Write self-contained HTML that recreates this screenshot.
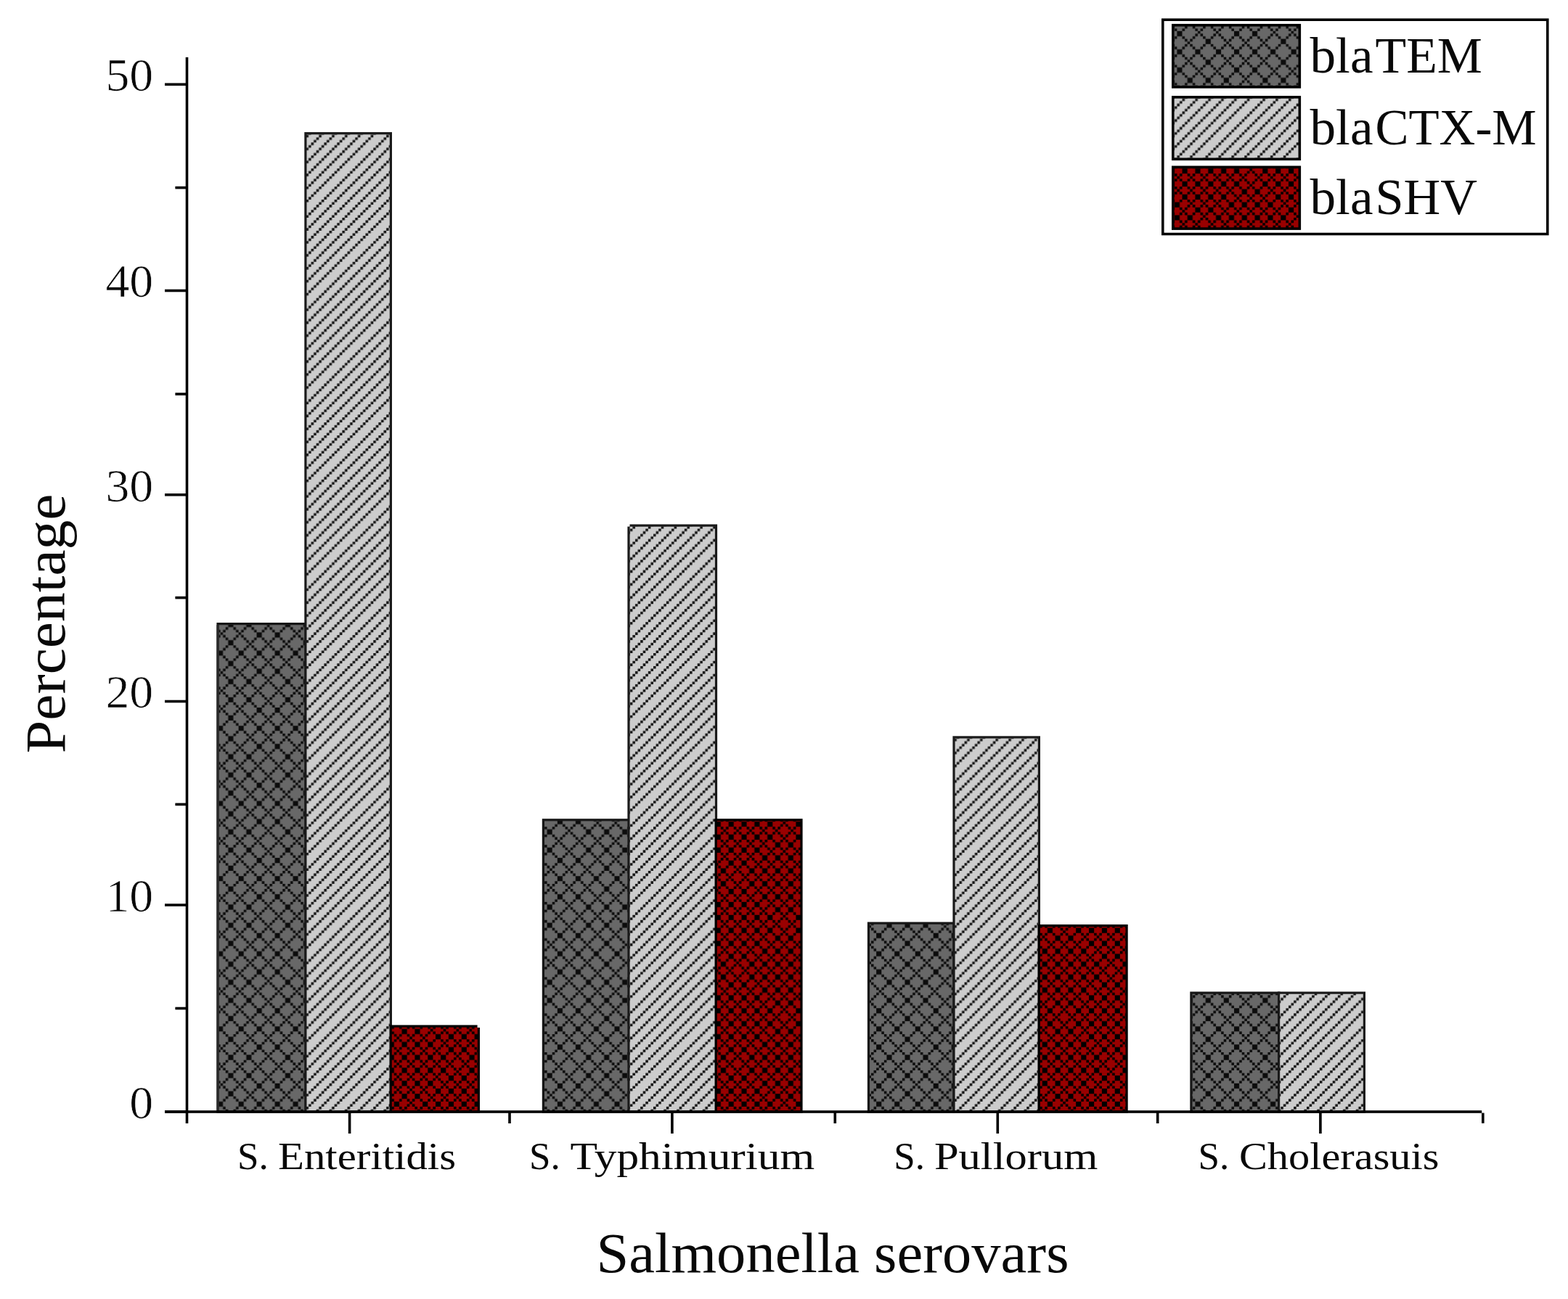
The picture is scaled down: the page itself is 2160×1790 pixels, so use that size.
<!DOCTYPE html>
<html lang="en"><head><meta charset="utf-8"><title>Salmonella serovars – bla gene percentage</title>
<style>
html,body{margin:0;padding:0;background:#fff;}
body{width:2160px;height:1790px;overflow:hidden;}
main,figure{display:block;margin:0;padding:0;width:2160px;height:1790px;}
svg{display:block;}
text{font-family:"Liberation Serif","DejaVu Serif",serif;fill:#080808;stroke:#ffffff;stroke-linejoin:round;}
.tick{font-size:63.5px;stroke-width:0.7px;}
.xl{font-size:53px;stroke-width:0;}
.ttl{font-size:79px;stroke-width:0;}
.lg{font-size:69.5px;stroke-width:0;}
</style></head><body>
<main><figure>
<svg width="2160" height="1790" viewBox="0 0 2160 1790" role="img" aria-label="Percentage of bla genes in Salmonella serovars">
<defs>
<pattern id="pd" patternUnits="userSpaceOnUse" x="0.00" y="0.00" width="103.5714" height="103.5714"><rect width="104.5714" height="104.5714" fill="#686868"/><path transform="scale(3.57143)" fill="#0c0c0c" d="M0 0h1v1h-1zM3 0h1v1h-1zM7 0h1v1h-1zM10 0h1v1h-1zM15 0h1v1h-1zM17 0h1v1h-1zM22 0h1v1h-1zM25 0h1v1h-1zM1 1h2v1h-2zM8 1h2v1h-2zM16 1h1v1h-1zM23 1h2v1h-2zM1 2h2v1h-2zM8 2h2v1h-2zM15 2h1v1h-1zM17 2h1v1h-1zM23 2h2v1h-2zM0 3h1v1h-1zM3 3h1v1h-1zM7 3h1v1h-1zM10 3h1v1h-1zM14 3h1v1h-1zM18 3h1v1h-1zM22 3h1v1h-1zM25 3h1v1h-1zM4 4h1v1h-1zM6 4h1v1h-1zM11 4h1v1h-1zM13 4h1v1h-1zM19 4h1v1h-1zM21 4h1v1h-1zM26 4h1v1h-1zM28 4h1v1h-1zM5 5h1v1h-1zM12 5h1v1h-1zM20 5h1v1h-1zM27 5h1v1h-1zM4 6h1v1h-1zM6 6h1v1h-1zM11 6h1v1h-1zM13 6h1v1h-1zM19 6h1v1h-1zM21 6h1v1h-1zM26 6h1v1h-1zM28 6h1v1h-1zM0 7h1v1h-1zM3 7h1v1h-1zM7 7h1v1h-1zM10 7h1v1h-1zM14 7h1v1h-1zM18 7h1v1h-1zM22 7h1v1h-1zM25 7h1v1h-1zM1 8h2v1h-2zM8 8h2v1h-2zM15 8h1v1h-1zM17 8h1v1h-1zM23 8h2v1h-2zM1 9h2v1h-2zM8 9h2v1h-2zM16 9h1v1h-1zM23 9h2v1h-2zM0 10h1v1h-1zM3 10h1v1h-1zM7 10h1v1h-1zM10 10h1v1h-1zM15 10h1v1h-1zM17 10h1v1h-1zM22 10h1v1h-1zM25 10h1v1h-1zM4 11h1v1h-1zM6 11h1v1h-1zM11 11h1v1h-1zM14 11h1v1h-1zM18 11h1v1h-1zM21 11h1v1h-1zM26 11h1v1h-1zM28 11h1v1h-1zM5 12h1v1h-1zM12 12h2v1h-2zM19 12h2v1h-2zM27 12h1v1h-1zM4 13h1v1h-1zM6 13h1v1h-1zM12 13h2v1h-2zM19 13h2v1h-2zM26 13h1v1h-1zM28 13h1v1h-1zM0 14h1v1h-1zM3 14h1v1h-1zM7 14h1v1h-1zM11 14h1v1h-1zM14 14h1v1h-1zM18 14h1v1h-1zM21 14h1v1h-1zM25 14h1v1h-1zM1 15h2v1h-2zM8 15h1v1h-1zM10 15h1v1h-1zM15 15h1v1h-1zM17 15h1v1h-1zM22 15h1v1h-1zM24 15h1v1h-1zM1 16h2v1h-2zM9 16h1v1h-1zM16 16h1v1h-1zM23 16h1v1h-1zM0 17h1v1h-1zM3 17h1v1h-1zM8 17h1v1h-1zM10 17h1v1h-1zM15 17h1v1h-1zM17 17h1v1h-1zM22 17h1v1h-1zM24 17h1v1h-1zM4 18h1v1h-1zM7 18h1v1h-1zM11 18h1v1h-1zM14 18h1v1h-1zM18 18h1v1h-1zM21 18h1v1h-1zM25 18h1v1h-1zM28 18h1v1h-1zM5 19h2v1h-2zM12 19h2v1h-2zM19 19h2v1h-2zM26 19h2v1h-2zM5 20h2v1h-2zM12 20h2v1h-2zM19 20h2v1h-2zM26 20h2v1h-2zM4 21h1v1h-1zM7 21h1v1h-1zM11 21h1v1h-1zM14 21h1v1h-1zM18 21h1v1h-1zM21 21h1v1h-1zM25 21h1v1h-1zM28 21h1v1h-1zM0 22h1v1h-1zM3 22h1v1h-1zM8 22h1v1h-1zM10 22h1v1h-1zM15 22h1v1h-1zM17 22h1v1h-1zM22 22h1v1h-1zM24 22h1v1h-1zM1 23h2v1h-2zM9 23h1v1h-1zM16 23h1v1h-1zM23 23h1v1h-1zM1 24h2v1h-2zM8 24h1v1h-1zM10 24h1v1h-1zM15 24h1v1h-1zM17 24h1v1h-1zM22 24h1v1h-1zM24 24h1v1h-1zM0 25h1v1h-1zM3 25h1v1h-1zM7 25h1v1h-1zM11 25h1v1h-1zM14 25h1v1h-1zM18 25h1v1h-1zM21 25h1v1h-1zM25 25h1v1h-1zM4 26h1v1h-1zM6 26h1v1h-1zM12 26h2v1h-2zM19 26h2v1h-2zM26 26h1v1h-1zM28 26h1v1h-1zM5 27h1v1h-1zM12 27h2v1h-2zM19 27h2v1h-2zM27 27h1v1h-1zM4 28h1v1h-1zM6 28h1v1h-1zM11 28h1v1h-1zM14 28h1v1h-1zM18 28h1v1h-1zM21 28h1v1h-1zM26 28h1v1h-1zM28 28h1v1h-1z"/></pattern>
<pattern id="pl" patternUnits="userSpaceOnUse" x="0.00" y="0.00" width="128.5714" height="128.5714"><rect width="129.5714" height="129.5714" fill="#cccccc"/><path transform="scale(3.57143)" fill="#151515" d="M0 0h1v1h-1zM5 0h1v1h-1zM10 0h1v1h-1zM15 0h1v1h-1zM21 0h1v1h-1zM26 0h1v1h-1zM31 0h1v1h-1zM4 1h1v1h-1zM9 1h1v1h-1zM14 1h1v1h-1zM20 1h1v1h-1zM25 1h1v1h-1zM30 1h1v1h-1zM35 1h1v1h-1zM3 2h1v1h-1zM8 2h1v1h-1zM13 2h1v1h-1zM19 2h1v1h-1zM24 2h1v1h-1zM29 2h1v1h-1zM34 2h1v1h-1zM2 3h1v1h-1zM7 3h1v1h-1zM12 3h1v1h-1zM18 3h1v1h-1zM23 3h1v1h-1zM28 3h1v1h-1zM33 3h1v1h-1zM1 4h1v1h-1zM6 4h1v1h-1zM11 4h1v1h-1zM17 4h1v1h-1zM22 4h1v1h-1zM27 4h1v1h-1zM32 4h1v1h-1zM0 5h1v1h-1zM5 5h1v1h-1zM10 5h1v1h-1zM16 5h1v1h-1zM21 5h1v1h-1zM26 5h1v1h-1zM31 5h1v1h-1zM4 6h1v1h-1zM9 6h1v1h-1zM15 6h1v1h-1zM20 6h1v1h-1zM25 6h1v1h-1zM30 6h1v1h-1zM35 6h1v1h-1zM3 7h1v1h-1zM8 7h1v1h-1zM14 7h1v1h-1zM19 7h1v1h-1zM24 7h1v1h-1zM29 7h1v1h-1zM34 7h1v1h-1zM2 8h1v1h-1zM7 8h1v1h-1zM13 8h1v1h-1zM18 8h1v1h-1zM23 8h1v1h-1zM28 8h1v1h-1zM33 8h1v1h-1zM1 9h1v1h-1zM6 9h1v1h-1zM12 9h1v1h-1zM17 9h1v1h-1zM22 9h1v1h-1zM27 9h1v1h-1zM32 9h1v1h-1zM0 10h1v1h-1zM5 10h1v1h-1zM11 10h1v1h-1zM16 10h1v1h-1zM21 10h1v1h-1zM26 10h1v1h-1zM31 10h1v1h-1zM4 11h1v1h-1zM10 11h1v1h-1zM15 11h1v1h-1zM20 11h1v1h-1zM25 11h1v1h-1zM30 11h1v1h-1zM35 11h1v1h-1zM3 12h1v1h-1zM9 12h1v1h-1zM14 12h1v1h-1zM19 12h1v1h-1zM24 12h1v1h-1zM29 12h1v1h-1zM34 12h1v1h-1zM2 13h1v1h-1zM8 13h1v1h-1zM13 13h1v1h-1zM18 13h1v1h-1zM23 13h1v1h-1zM28 13h1v1h-1zM33 13h1v1h-1zM1 14h1v1h-1zM7 14h1v1h-1zM12 14h1v1h-1zM17 14h1v1h-1zM22 14h1v1h-1zM27 14h1v1h-1zM32 14h1v1h-1zM0 15h1v1h-1zM6 15h1v1h-1zM11 15h1v1h-1zM16 15h1v1h-1zM21 15h1v1h-1zM26 15h1v1h-1zM31 15h1v1h-1zM5 16h1v1h-1zM10 16h1v1h-1zM15 16h1v1h-1zM20 16h1v1h-1zM25 16h1v1h-1zM30 16h1v1h-1zM35 16h1v1h-1zM4 17h1v1h-1zM9 17h1v1h-1zM14 17h1v1h-1zM19 17h1v1h-1zM24 17h1v1h-1zM29 17h1v1h-1zM34 17h1v1h-1zM3 18h1v1h-1zM8 18h1v1h-1zM13 18h1v1h-1zM18 18h1v1h-1zM23 18h1v1h-1zM28 18h1v1h-1zM33 18h1v1h-1zM2 19h1v1h-1zM7 19h1v1h-1zM12 19h1v1h-1zM17 19h1v1h-1zM22 19h1v1h-1zM27 19h1v1h-1zM32 19h1v1h-1zM1 20h1v1h-1zM6 20h1v1h-1zM11 20h1v1h-1zM16 20h1v1h-1zM21 20h1v1h-1zM26 20h1v1h-1zM31 20h1v1h-1zM0 21h1v1h-1zM5 21h1v1h-1zM10 21h1v1h-1zM15 21h1v1h-1zM20 21h1v1h-1zM25 21h1v1h-1zM30 21h1v1h-1zM4 22h1v1h-1zM9 22h1v1h-1zM14 22h1v1h-1zM19 22h1v1h-1zM24 22h1v1h-1zM29 22h1v1h-1zM35 22h1v1h-1zM3 23h1v1h-1zM8 23h1v1h-1zM13 23h1v1h-1zM18 23h1v1h-1zM23 23h1v1h-1zM28 23h1v1h-1zM34 23h1v1h-1zM2 24h1v1h-1zM7 24h1v1h-1zM12 24h1v1h-1zM17 24h1v1h-1zM22 24h1v1h-1zM27 24h1v1h-1zM33 24h1v1h-1zM1 25h1v1h-1zM6 25h1v1h-1zM11 25h1v1h-1zM16 25h1v1h-1zM21 25h1v1h-1zM26 25h1v1h-1zM32 25h1v1h-1zM0 26h1v1h-1zM5 26h1v1h-1zM10 26h1v1h-1zM15 26h1v1h-1zM20 26h1v1h-1zM25 26h1v1h-1zM31 26h1v1h-1zM4 27h1v1h-1zM9 27h1v1h-1zM14 27h1v1h-1zM19 27h1v1h-1zM24 27h1v1h-1zM30 27h1v1h-1zM35 27h1v1h-1zM3 28h1v1h-1zM8 28h1v1h-1zM13 28h1v1h-1zM18 28h1v1h-1zM23 28h1v1h-1zM29 28h1v1h-1zM34 28h1v1h-1zM2 29h1v1h-1zM7 29h1v1h-1zM12 29h1v1h-1zM17 29h1v1h-1zM22 29h1v1h-1zM28 29h1v1h-1zM33 29h1v1h-1zM1 30h1v1h-1zM6 30h1v1h-1zM11 30h1v1h-1zM16 30h1v1h-1zM21 30h1v1h-1zM27 30h1v1h-1zM32 30h1v1h-1zM0 31h1v1h-1zM5 31h1v1h-1zM10 31h1v1h-1zM15 31h1v1h-1zM20 31h1v1h-1zM26 31h1v1h-1zM31 31h1v1h-1zM4 32h1v1h-1zM9 32h1v1h-1zM14 32h1v1h-1zM19 32h1v1h-1zM25 32h1v1h-1zM30 32h1v1h-1zM35 32h1v1h-1zM3 33h1v1h-1zM8 33h1v1h-1zM13 33h1v1h-1zM18 33h1v1h-1zM24 33h1v1h-1zM29 33h1v1h-1zM34 33h1v1h-1zM2 34h1v1h-1zM7 34h1v1h-1zM12 34h1v1h-1zM17 34h1v1h-1zM23 34h1v1h-1zM28 34h1v1h-1zM33 34h1v1h-1zM1 35h1v1h-1zM6 35h1v1h-1zM11 35h1v1h-1zM16 35h1v1h-1zM22 35h1v1h-1zM27 35h1v1h-1zM32 35h1v1h-1z"/></pattern>
<pattern id="pr" patternUnits="userSpaceOnUse" x="0.00" y="0.00" width="128.5714" height="128.5714"><rect width="129.5714" height="129.5714" fill="#990000"/><path transform="scale(3.57143)" fill="#000000" d="M0 0h1v1h-1zM2 0h1v1h-1zM5 0h1v1h-1zM7 0h1v1h-1zM10 0h1v1h-1zM13 0h1v1h-1zM15 0h1v1h-1zM18 0h1v1h-1zM21 0h1v1h-1zM23 0h1v1h-1zM26 0h1v1h-1zM28 0h1v1h-1zM31 0h1v1h-1zM33 0h1v1h-1zM1 1h1v1h-1zM6 1h1v1h-1zM11 1h2v1h-2zM16 1h2v1h-2zM22 1h1v1h-1zM27 1h1v1h-1zM32 1h1v1h-1zM0 2h1v1h-1zM2 2h1v1h-1zM5 2h1v1h-1zM7 2h1v1h-1zM11 2h2v1h-2zM16 2h2v1h-2zM21 2h1v1h-1zM23 2h1v1h-1zM26 2h1v1h-1zM28 2h1v1h-1zM31 2h1v1h-1zM33 2h1v1h-1zM3 3h2v1h-2zM8 3h1v1h-1zM10 3h1v1h-1zM13 3h1v1h-1zM15 3h1v1h-1zM18 3h1v1h-1zM20 3h1v1h-1zM24 3h2v1h-2zM29 3h2v1h-2zM34 3h2v1h-2zM3 4h2v1h-2zM9 4h1v1h-1zM14 4h1v1h-1zM19 4h1v1h-1zM24 4h2v1h-2zM29 4h2v1h-2zM34 4h2v1h-2zM0 5h1v1h-1zM2 5h1v1h-1zM5 5h1v1h-1zM8 5h1v1h-1zM10 5h1v1h-1zM13 5h1v1h-1zM15 5h1v1h-1zM18 5h1v1h-1zM20 5h1v1h-1zM23 5h1v1h-1zM26 5h1v1h-1zM28 5h1v1h-1zM31 5h1v1h-1zM33 5h1v1h-1zM1 6h1v1h-1zM6 6h2v1h-2zM11 6h2v1h-2zM16 6h2v1h-2zM21 6h2v1h-2zM27 6h1v1h-1zM32 6h1v1h-1zM0 7h1v1h-1zM2 7h1v1h-1zM6 7h2v1h-2zM11 7h2v1h-2zM16 7h2v1h-2zM21 7h2v1h-2zM26 7h1v1h-1zM28 7h1v1h-1zM31 7h1v1h-1zM33 7h1v1h-1zM3 8h1v1h-1zM5 8h1v1h-1zM8 8h1v1h-1zM10 8h1v1h-1zM13 8h1v1h-1zM15 8h1v1h-1zM18 8h1v1h-1zM20 8h1v1h-1zM23 8h1v1h-1zM25 8h1v1h-1zM29 8h2v1h-2zM34 8h2v1h-2zM4 9h1v1h-1zM9 9h1v1h-1zM14 9h1v1h-1zM19 9h1v1h-1zM24 9h1v1h-1zM29 9h2v1h-2zM34 9h2v1h-2zM0 10h1v1h-1zM3 10h1v1h-1zM5 10h1v1h-1zM8 10h1v1h-1zM10 10h1v1h-1zM13 10h1v1h-1zM15 10h1v1h-1zM18 10h1v1h-1zM20 10h1v1h-1zM23 10h1v1h-1zM25 10h1v1h-1zM28 10h1v1h-1zM31 10h1v1h-1zM33 10h1v1h-1zM1 11h2v1h-2zM6 11h2v1h-2zM11 11h2v1h-2zM16 11h2v1h-2zM21 11h2v1h-2zM26 11h2v1h-2zM32 11h1v1h-1zM1 12h2v1h-2zM6 12h2v1h-2zM11 12h2v1h-2zM16 12h2v1h-2zM21 12h2v1h-2zM26 12h2v1h-2zM31 12h1v1h-1zM33 12h1v1h-1zM0 13h1v1h-1zM3 13h1v1h-1zM5 13h1v1h-1zM8 13h1v1h-1zM10 13h1v1h-1zM13 13h1v1h-1zM15 13h1v1h-1zM18 13h1v1h-1zM20 13h1v1h-1zM23 13h1v1h-1zM25 13h1v1h-1zM28 13h1v1h-1zM30 13h1v1h-1zM34 13h1v1h-1zM4 14h1v1h-1zM9 14h1v1h-1zM14 14h1v1h-1zM19 14h1v1h-1zM24 14h1v1h-1zM29 14h1v1h-1zM35 14h1v1h-1zM0 15h1v1h-1zM3 15h1v1h-1zM5 15h1v1h-1zM8 15h1v1h-1zM10 15h1v1h-1zM13 15h1v1h-1zM15 15h1v1h-1zM18 15h1v1h-1zM20 15h1v1h-1zM23 15h1v1h-1zM25 15h1v1h-1zM28 15h1v1h-1zM30 15h1v1h-1zM34 15h1v1h-1zM1 16h2v1h-2zM6 16h2v1h-2zM11 16h2v1h-2zM16 16h2v1h-2zM21 16h2v1h-2zM26 16h2v1h-2zM31 16h1v1h-1zM33 16h1v1h-1zM1 17h2v1h-2zM6 17h2v1h-2zM11 17h2v1h-2zM16 17h2v1h-2zM21 17h2v1h-2zM26 17h2v1h-2zM32 17h1v1h-1zM0 18h1v1h-1zM3 18h1v1h-1zM5 18h1v1h-1zM8 18h1v1h-1zM10 18h1v1h-1zM13 18h1v1h-1zM15 18h1v1h-1zM18 18h1v1h-1zM20 18h1v1h-1zM23 18h1v1h-1zM25 18h1v1h-1zM28 18h1v1h-1zM31 18h1v1h-1zM33 18h1v1h-1zM4 19h1v1h-1zM9 19h1v1h-1zM14 19h1v1h-1zM19 19h1v1h-1zM24 19h1v1h-1zM29 19h2v1h-2zM34 19h2v1h-2zM3 20h1v1h-1zM5 20h1v1h-1zM8 20h1v1h-1zM10 20h1v1h-1zM13 20h1v1h-1zM15 20h1v1h-1zM18 20h1v1h-1zM20 20h1v1h-1zM23 20h1v1h-1zM25 20h1v1h-1zM29 20h2v1h-2zM34 20h2v1h-2zM0 21h1v1h-1zM2 21h1v1h-1zM6 21h2v1h-2zM11 21h2v1h-2zM16 21h2v1h-2zM21 21h2v1h-2zM26 21h1v1h-1zM28 21h1v1h-1zM31 21h1v1h-1zM33 21h1v1h-1zM1 22h1v1h-1zM6 22h2v1h-2zM11 22h2v1h-2zM16 22h2v1h-2zM21 22h2v1h-2zM27 22h1v1h-1zM32 22h1v1h-1zM0 23h1v1h-1zM2 23h1v1h-1zM5 23h1v1h-1zM8 23h1v1h-1zM10 23h1v1h-1zM13 23h1v1h-1zM15 23h1v1h-1zM18 23h1v1h-1zM20 23h1v1h-1zM23 23h1v1h-1zM26 23h1v1h-1zM28 23h1v1h-1zM31 23h1v1h-1zM33 23h1v1h-1zM3 24h2v1h-2zM9 24h1v1h-1zM14 24h1v1h-1zM19 24h1v1h-1zM24 24h2v1h-2zM29 24h2v1h-2zM34 24h2v1h-2zM3 25h2v1h-2zM8 25h1v1h-1zM10 25h1v1h-1zM13 25h1v1h-1zM15 25h1v1h-1zM18 25h1v1h-1zM20 25h1v1h-1zM24 25h2v1h-2zM29 25h2v1h-2zM34 25h2v1h-2zM0 26h1v1h-1zM2 26h1v1h-1zM5 26h1v1h-1zM7 26h1v1h-1zM11 26h2v1h-2zM16 26h2v1h-2zM21 26h1v1h-1zM23 26h1v1h-1zM26 26h1v1h-1zM28 26h1v1h-1zM31 26h1v1h-1zM33 26h1v1h-1zM1 27h1v1h-1zM6 27h1v1h-1zM11 27h2v1h-2zM16 27h2v1h-2zM22 27h1v1h-1zM27 27h1v1h-1zM32 27h1v1h-1zM0 28h1v1h-1zM2 28h1v1h-1zM5 28h1v1h-1zM7 28h1v1h-1zM10 28h1v1h-1zM13 28h1v1h-1zM15 28h1v1h-1zM18 28h1v1h-1zM21 28h1v1h-1zM23 28h1v1h-1zM26 28h1v1h-1zM28 28h1v1h-1zM31 28h1v1h-1zM33 28h1v1h-1zM3 29h2v1h-2zM8 29h2v1h-2zM14 29h1v1h-1zM19 29h2v1h-2zM24 29h2v1h-2zM29 29h2v1h-2zM34 29h2v1h-2zM3 30h2v1h-2zM8 30h2v1h-2zM13 30h1v1h-1zM15 30h1v1h-1zM19 30h2v1h-2zM24 30h2v1h-2zM29 30h2v1h-2zM34 30h2v1h-2zM0 31h1v1h-1zM2 31h1v1h-1zM5 31h1v1h-1zM7 31h1v1h-1zM10 31h1v1h-1zM12 31h1v1h-1zM16 31h1v1h-1zM18 31h1v1h-1zM21 31h1v1h-1zM23 31h1v1h-1zM26 31h1v1h-1zM28 31h1v1h-1zM31 31h1v1h-1zM33 31h1v1h-1zM1 32h1v1h-1zM6 32h1v1h-1zM11 32h1v1h-1zM17 32h1v1h-1zM22 32h1v1h-1zM27 32h1v1h-1zM32 32h1v1h-1zM0 33h1v1h-1zM2 33h1v1h-1zM5 33h1v1h-1zM7 33h1v1h-1zM10 33h1v1h-1zM12 33h1v1h-1zM16 33h1v1h-1zM18 33h1v1h-1zM21 33h1v1h-1zM23 33h1v1h-1zM26 33h1v1h-1zM28 33h1v1h-1zM31 33h1v1h-1zM33 33h1v1h-1zM3 34h2v1h-2zM8 34h2v1h-2zM13 34h1v1h-1zM15 34h1v1h-1zM19 34h2v1h-2zM24 34h2v1h-2zM29 34h2v1h-2zM34 34h2v1h-2zM3 35h2v1h-2zM8 35h2v1h-2zM14 35h1v1h-1zM19 35h2v1h-2zM24 35h2v1h-2zM29 35h2v1h-2zM34 35h2v1h-2z"/></pattern>
</defs>
<rect width="2160" height="1790" fill="#ffffff"/>
<g stroke-width="3.200">
<rect x="300.00" y="859.60" width="121.30" height="672.40" fill="url(#pd)" stroke="#161616"/>
<rect x="420.90" y="183.70" width="117.50" height="1348.30" fill="url(#pl)" stroke="#1a1a1a"/>
<rect x="538.20" y="1414.10" width="121.20" height="117.90" fill="url(#pr)" stroke="#000000"/>
<rect x="748.40" y="1129.80" width="118.20" height="402.20" fill="url(#pd)" stroke="#161616"/>
<rect x="866.00" y="724.10" width="120.50" height="807.90" fill="url(#pl)" stroke="#1a1a1a"/>
<rect x="986.20" y="1129.80" width="117.80" height="402.20" fill="url(#pr)" stroke="#000000"/>
<rect x="1196.50" y="1272.10" width="117.50" height="259.90" fill="url(#pd)" stroke="#161616"/>
<rect x="1314.00" y="1015.90" width="117.40" height="516.10" fill="url(#pl)" stroke="#1a1a1a"/>
<rect x="1431.20" y="1275.50" width="120.90" height="256.50" fill="url(#pr)" stroke="#000000"/>
<rect x="1640.90" y="1368.10" width="121.10" height="163.90" fill="url(#pd)" stroke="#161616"/>
<rect x="1761.60" y="1368.10" width="117.80" height="163.90" fill="url(#pl)" stroke="#1a1a1a"/>
</g>
<rect x="298.4" y="861.2" width="3.2" height="669" fill="#2c2c2c"/>
<rect x="657.6" y="1411.9" width="4" height="4.1" fill="#ffffff"/>
<rect x="863.9" y="722" width="3.6" height="3.6" fill="#ffffff"/>
<g fill="#000000">
<rect x="255.7" y="78.9" width="3.6" height="1469.1"/>
<rect x="227" y="1530.2" width="1814.2" height="3.6"/>
<rect x="227" y="114.5" width="30" height="3.6"/>
<rect x="227" y="398.7" width="30" height="3.6"/>
<rect x="227" y="680.0" width="30" height="3.6"/>
<rect x="227" y="964.7" width="30" height="3.6"/>
<rect x="227" y="1245.3" width="30" height="3.6"/>
<rect x="227" y="1530.2" width="30" height="3.6"/>
<rect x="241.4" y="256.8" width="16" height="3.6"/>
<rect x="241.4" y="541.2" width="16" height="3.6"/>
<rect x="241.4" y="821.8" width="16" height="3.6"/>
<rect x="241.4" y="1106.6" width="16" height="3.6"/>
<rect x="241.4" y="1387.7" width="16" height="3.6"/>
<rect x="479.8" y="1531" width="3.6" height="31"/>
<rect x="924.1" y="1531" width="3.6" height="31"/>
<rect x="1372.5" y="1531" width="3.6" height="31"/>
<rect x="1817.1" y="1531" width="3.6" height="31"/>
<rect x="700.2" y="1531" width="3.6" height="17"/>
<rect x="1148.5" y="1531" width="3.6" height="17"/>
<rect x="1592.9" y="1531" width="3.6" height="17"/>
<rect x="2041" y="1533.6" width="3.6" height="14.2"/>
</g>
<text class="tick" x="145.40" y="125.1" textLength="65.80" lengthAdjust="spacingAndGlyphs">50</text>
<text class="tick" x="145.40" y="409.3" textLength="65.80" lengthAdjust="spacingAndGlyphs">40</text>
<text class="tick" x="145.40" y="690.6" textLength="65.80" lengthAdjust="spacingAndGlyphs">30</text>
<text class="tick" x="145.40" y="975.3" textLength="65.80" lengthAdjust="spacingAndGlyphs">20</text>
<text class="tick" x="145.40" y="1255.9" textLength="65.80" lengthAdjust="spacingAndGlyphs">10</text>
<text class="tick" x="178.30" y="1540.8" textLength="32.90" lengthAdjust="spacingAndGlyphs">0</text>
<text class="xl" y="1611.3"><tspan x="327.0">S. </tspan><tspan x="383.0" textLength="245.1" lengthAdjust="spacingAndGlyphs">Enteritidis</tspan></text>
<text class="xl" y="1611.3"><tspan x="729.0">S. </tspan><tspan x="785.5" textLength="336.8" lengthAdjust="spacingAndGlyphs">Typhimurium</tspan></text>
<text class="xl" y="1611.3"><tspan x="1231.3">S. </tspan><tspan x="1286.9" textLength="225.4" lengthAdjust="spacingAndGlyphs">Pullorum</tspan></text>
<text class="xl" y="1611.3"><tspan x="1650.5">S. </tspan><tspan x="1706.9" textLength="275.6" lengthAdjust="spacingAndGlyphs">Cholerasuis</tspan></text>
<text class="ttl" transform="translate(88.5 1038) rotate(-90)" textLength="357.5" lengthAdjust="spacingAndGlyphs">Percentage</text>
<text class="ttl" x="821.5" y="1752.7" textLength="651" lengthAdjust="spacingAndGlyphs">Salmonella serovars</text>
<rect x="1601.8" y="27.2" width="530" height="295.3" fill="#ffffff" stroke="#000000" stroke-width="3.571"/>
<rect x="1615.79" y="34.69" width="174.53" height="85.23" fill="url(#pd)" stroke="#000000" stroke-width="3.571"/>
<rect x="1615.79" y="133.89" width="174.53" height="85.43" fill="url(#pl)" stroke="#000000" stroke-width="3.571"/>
<rect x="1615.79" y="230.29" width="174.53" height="84.83" fill="url(#pr)" stroke="#000000" stroke-width="3.571"/>
<text class="lg" y="100.0"><tspan x="1804.5" textLength="87" lengthAdjust="spacingAndGlyphs">bla</tspan><tspan x="1894.5" textLength="147.5" lengthAdjust="spacingAndGlyphs">TEM</tspan></text>
<text class="lg" y="199.3"><tspan x="1804.5" textLength="87" lengthAdjust="spacingAndGlyphs">bla</tspan><tspan x="1894.5" textLength="222.2" lengthAdjust="spacingAndGlyphs">CTX-M</tspan></text>
<text class="lg" y="295.4"><tspan x="1804.5" textLength="87" lengthAdjust="spacingAndGlyphs">bla</tspan><tspan x="1894.5" textLength="140.5" lengthAdjust="spacingAndGlyphs">SHV</tspan></text>
</svg>
</figure></main>
</body></html>
